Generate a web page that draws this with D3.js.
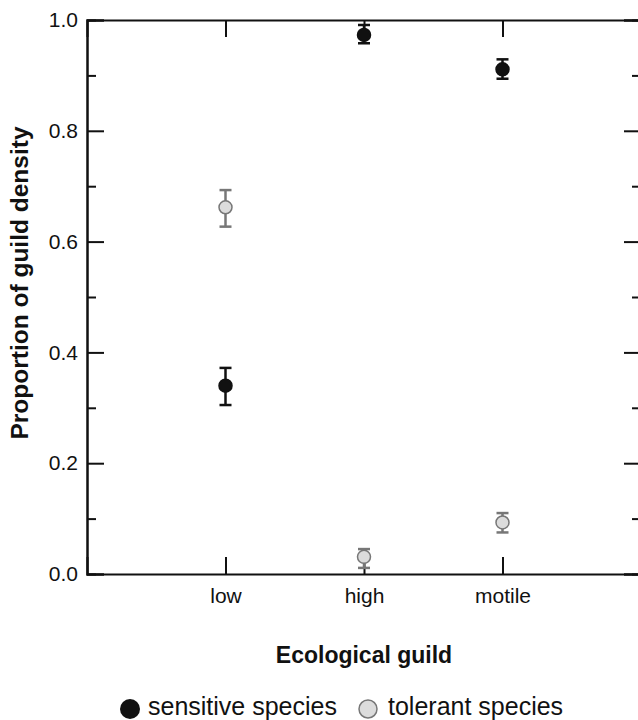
<!DOCTYPE html>
<html>
<head>
<meta charset="utf-8">
<script src="https://cdn.jsdelivr.net/npm/d3@7"></script>
<style>
  body { margin: 0; background: #fff; }
  svg { display: block; font-family: "Liberation Sans", Arial, sans-serif; }
</style>
</head>
<body>
<svg id="chart" width="638" height="720"></svg>
<script>
var guilds = ["low", "high", "motile"];
var sensitiveMean = [0.340, 0.973, 0.911];
var sensitiveLo = [0.305, 0.958, 0.894];
var sensitiveHi = [0.372, 0.991, 0.929];
var tolerantMean = [0.662, 0.031, 0.093];
var tolerantLo = [0.627, 0.011, 0.075];
var tolerantHi = [0.693, 0.045, 0.110];
var yTicks = [0, 0.2, 0.4, 0.6, 0.8, 1.0];
var yMinor = [0.1, 0.3, 0.5, 0.7, 0.9];

var margin = {top: 20, right: -3, bottom: 146, left: 87};
var width = 638 - margin.left - margin.right;
var height = 720 - margin.top - margin.bottom;

var svg = d3.select("#chart");
var g = svg.append("g").attr("transform", "translate(" + margin.left + "," + margin.top + ")");

// categories sit at 1,2,3 on a 0..4 range
var x = d3.scalePoint()
    .domain(["", "low", "high", "motile", " "])
    .range([0, width]);

var y = d3.scaleLinear().domain([0, 1]).range([height, 0]);

function styleAxis(sel) {
  sel.select(".domain").attr("stroke", "#111").attr("stroke-width", 2);
  sel.selectAll(".tick line").attr("stroke", "#111").attr("stroke-width", 2);
  sel.selectAll("text").attr("fill", "#111").style("font-size", "21px");
}

// left axis
g.append("g")
    .call(d3.axisLeft(y).tickValues(yTicks).tickSize(-17).tickPadding(9).tickFormat(d3.format(".1f")))
    .call(styleAxis);
g.append("g")
    .call(d3.axisLeft(y).tickValues(yMinor).tickSize(-9).tickFormat(""))
    .call(styleAxis);

// right axis
g.append("g")
    .attr("transform", "translate(" + width + ",0)")
    .call(d3.axisRight(y).tickValues(yTicks).tickSize(-17).tickFormat(""))
    .call(styleAxis);
g.append("g")
    .attr("transform", "translate(" + width + ",0)")
    .call(d3.axisRight(y).tickValues(yMinor).tickSize(-9).tickFormat(""))
    .call(styleAxis);

// bottom axis
g.append("g")
    .attr("transform", "translate(0," + height + ")")
    .call(d3.axisBottom(x).tickValues(guilds).tickSize(-17).tickPadding(14))
    .call(styleAxis);

// top axis
g.append("g")
    .call(d3.axisTop(x).tickValues(guilds).tickSize(-17).tickFormat(""))
    .call(styleAxis);

function drawSeries(mean, lo, hi, fill, stroke) {
  var s = g.append("g");
  var rows = guilds.map(function(k, i) { return {k: k, m: mean[i], lo: lo[i], hi: hi[i]}; });
  s.selectAll("line.err").data(rows).enter().append("line")
      .attr("x1", function(d) { return x(d.k); })
      .attr("x2", function(d) { return x(d.k); })
      .attr("y1", function(d) { return y(d.lo); })
      .attr("y2", function(d) { return y(d.hi); })
      .attr("stroke", stroke).attr("stroke-width", 2.5);
  ["lo", "hi"].forEach(function(p) {
    s.selectAll("line.cap" + p).data(rows).enter().append("line")
        .attr("x1", function(d) { return x(d.k) - 6; })
        .attr("x2", function(d) { return x(d.k) + 6; })
        .attr("y1", function(d) { return y(d[p]); })
        .attr("y2", function(d) { return y(d[p]); })
        .attr("stroke", stroke).attr("stroke-width", 2.5);
  });
  s.selectAll("circle").data(rows).enter().append("circle")
      .attr("cx", function(d) { return x(d.k); })
      .attr("cy", function(d) { return y(d.m); })
      .attr("r", 6.5)
      .attr("fill", fill)
      .attr("stroke", stroke)
      .attr("stroke-width", 1.5);
}

drawSeries(tolerantMean, tolerantLo, tolerantHi, "#dcdcdc", "#777");
drawSeries(sensitiveMean, sensitiveLo, sensitiveHi, "#111", "#111");

// axis titles
svg.append("text")
    .attr("transform", "translate(28,283) rotate(-90)")
    .attr("text-anchor", "middle")
    .style("font-size", "24.5px").style("font-weight", "bold").attr("fill", "#111")
    .text("Proportion of guild density");

svg.append("text")
    .attr("x", margin.left + x("high")).attr("y", 663)
    .attr("text-anchor", "middle")
    .style("font-size", "23px").style("font-weight", "bold").attr("fill", "#111")
    .text("Ecological guild");

// legend
var legend = svg.append("g").attr("transform", "translate(0,709)");
legend.append("circle").attr("cx", 130).attr("cy", 0).attr("r", 10).attr("fill", "#111");
legend.append("text").attr("x", 148).attr("y", 6).style("font-size", "25px").attr("fill", "#111").text("sensitive species");
legend.append("circle").attr("cx", 368).attr("cy", 0).attr("r", 9).attr("fill", "#dcdcdc").attr("stroke", "#777").attr("stroke-width", 1.5);
legend.append("text").attr("x", 388).attr("y", 6).style("font-size", "25px").attr("fill", "#111").text("tolerant species");
</script>
</body>
</html>
